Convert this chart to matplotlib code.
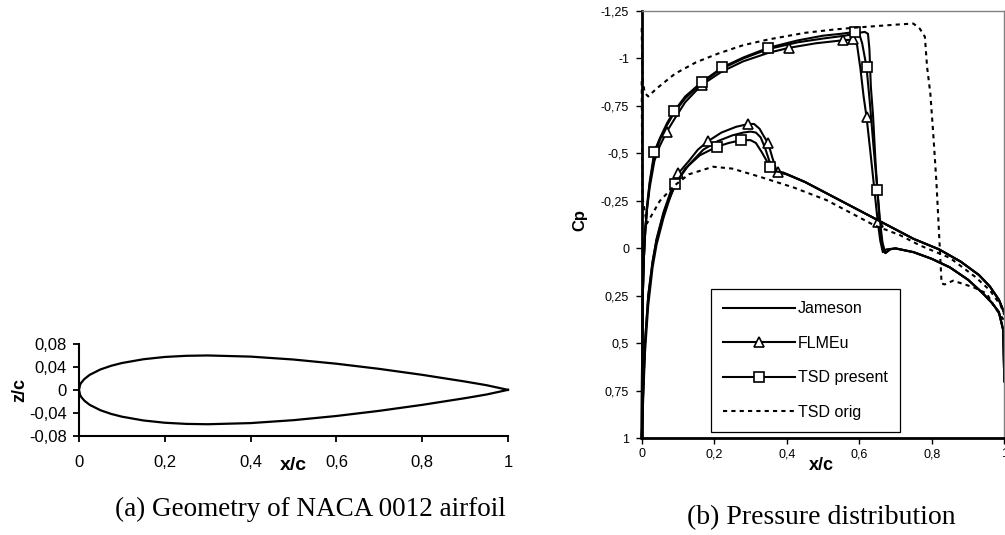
import matplotlib
matplotlib.use("Agg")
import matplotlib.pyplot as plt
from matplotlib.lines import Line2D

plt.rcParams["font.family"] = ["Liberation Sans", "DejaVu Sans"]

# ---- (a) NACA 0012 geometry (upper half-thickness, lower is mirrored) ----
naca_x = [0.0, 0.0025, 0.005, 0.0125, 0.025, 0.05, 0.075, 0.1, 0.15, 0.2,
          0.25, 0.3, 0.4, 0.5, 0.6, 0.7, 0.8, 0.9, 0.95, 1.0]
naca_z = [0.0, 0.0087, 0.0122, 0.0189, 0.0262, 0.0356, 0.0420, 0.0468, 0.0534,
          0.0574, 0.0594, 0.0600, 0.0580, 0.0529, 0.0456, 0.0366, 0.0262,
          0.0145, 0.0081, 0.0]
geo_xticks = [0, 0.2, 0.4, 0.6, 0.8, 1.0]
geo_xlabels = ["0", "0,2", "0,4", "0,6", "0,8", "1"]
geo_zticks = [-0.08, -0.04, 0, 0.04, 0.08]
geo_zlabels = ["-0,08", "-0,04", "0", "0,04", "0,08"]

# ---- (b) pressure distribution ----
# Jameson
jam_up_x = [0.0, 0.001, 0.003, 0.006, 0.010, 0.015, 0.022, 0.035, 0.05, 0.07,
            0.09, 0.12, 0.165, 0.22, 0.28, 0.35, 0.43, 0.50, 0.56, 0.60, 0.615,
            0.624, 0.628, 0.632, 0.638, 0.645, 0.652, 0.659, 0.666, 0.672,
            0.685, 0.70, 0.75, 0.80, 0.85, 0.90, 0.94, 0.965, 0.985, 0.997, 1.0]
jam_up_cp = [1.0, 0.6, 0.25, 0.05, -0.1, -0.22, -0.34, -0.49, -0.57, -0.65,
             -0.715, -0.79, -0.87, -0.945, -1.0, -1.05, -1.085, -1.105, -1.12,
             -1.135, -1.14, -1.13, -1.05, -0.85, -0.7, -0.45, -0.25, -0.08,
             0.0, 0.025, 0.005, 0.0, 0.02, 0.055, 0.1, 0.165, 0.235, 0.285,
             0.335, 0.43, 0.70]
jam_lo_x = [0.0, 0.004, 0.009, 0.018, 0.03, 0.041, 0.06, 0.08, 0.1, 0.13, 0.17,
            0.21, 0.25, 0.28, 0.30, 0.315, 0.328, 0.34, 0.352, 0.364, 0.38,
            0.40, 0.45, 0.55, 0.65, 0.75, 0.82, 0.88, 0.93, 0.96, 0.985, 1.0]
jam_lo_cp = [1.0, 0.75, 0.5, 0.25, 0.07, -0.045, -0.18, -0.28, -0.36, -0.44,
             -0.52, -0.565, -0.595, -0.61, -0.615, -0.61, -0.585, -0.53, -0.46,
             -0.42, -0.40, -0.39, -0.35, -0.25, -0.15, -0.05, 0.005, 0.07, 0.14,
             0.2, 0.27, 0.34]

# FLMEu (triangles)
flm_up_x = [0.0, 0.001, 0.003, 0.006, 0.010, 0.015, 0.022, 0.035, 0.05, 0.069,
            0.09, 0.12, 0.165, 0.22, 0.28, 0.35, 0.406, 0.48, 0.556, 0.583,
            0.594, 0.603, 0.612, 0.62, 0.63, 0.64, 0.651, 0.658, 0.665, 0.675,
            0.70, 0.75, 0.80, 0.85, 0.90, 0.94, 0.965, 0.985, 0.997, 1.0]
flm_up_cp = [1.0, 0.6, 0.25, 0.05, -0.1, -0.21, -0.32, -0.46, -0.54, -0.614,
             -0.68, -0.77, -0.86, -0.93, -0.985, -1.03, -1.056, -1.08, -1.096,
             -1.1, -1.07, -0.95, -0.8, -0.693, -0.52, -0.34, -0.14, -0.04, 0.02,
             0.005, 0.0, 0.02, 0.055, 0.1, 0.165, 0.235, 0.285, 0.335, 0.43, 0.70]
flm_up_marks = [9, 12, 16, 18, 19, 23, 26]
flm_lo_x = [0.0, 0.004, 0.009, 0.018, 0.03, 0.041, 0.06, 0.08, 0.101, 0.13,
            0.155, 0.184, 0.22, 0.26, 0.294, 0.31, 0.325, 0.337, 0.349, 0.36,
            0.37, 0.377, 0.40, 0.45, 0.55, 0.65, 0.75, 0.82, 0.88, 0.93, 0.96,
            0.985, 1.0]
flm_lo_cp = [1.0, 0.75, 0.5, 0.25, 0.07, -0.05, -0.19, -0.30, -0.395, -0.46,
             -0.52, -0.566, -0.61, -0.64, -0.655, -0.655, -0.63, -0.59, -0.553,
             -0.48, -0.42, -0.403, -0.39, -0.35, -0.25, -0.15, -0.05, 0.005,
             0.07, 0.14, 0.2, 0.27, 0.34]
flm_lo_marks = [8, 11, 14, 18, 21]

# TSD present (squares)
tsp_up_x = [0.0, 0.001, 0.003, 0.006, 0.010, 0.015, 0.022, 0.035, 0.05, 0.07,
            0.09, 0.12, 0.165, 0.222, 0.28, 0.349, 0.43, 0.50, 0.55, 0.588,
            0.60, 0.608, 0.62, 0.63, 0.64, 0.65, 0.657, 0.664, 0.672, 0.685,
            0.70, 0.75, 0.80, 0.85, 0.90, 0.94, 0.965, 0.985, 0.997, 1.0]
tsp_up_cp = [1.0, 0.6, 0.25, 0.05, -0.1, -0.23, -0.35, -0.51, -0.58, -0.66,
             -0.724, -0.80, -0.875, -0.953, -1.005, -1.056, -1.095, -1.12,
             -1.13, -1.14, -1.13, -1.08, -0.956, -0.75, -0.52, -0.31, -0.15,
             -0.03, 0.025, 0.005, 0.0, 0.02, 0.055, 0.1, 0.165, 0.235, 0.285,
             0.335, 0.43, 0.70]
tsp_up_marks = [7, 10, 12, 13, 15, 19, 22, 25]
tsp_lo_x = [0.0, 0.004, 0.009, 0.018, 0.03, 0.041, 0.06, 0.075, 0.092, 0.12,
            0.16, 0.207, 0.24, 0.274, 0.30, 0.315, 0.33, 0.354, 0.37, 0.39,
            0.45, 0.55, 0.65, 0.75, 0.82, 0.88, 0.93, 0.96, 0.985, 1.0]
tsp_lo_cp = [1.0, 0.8, 0.55, 0.3, 0.1, -0.02, -0.16, -0.25, -0.337, -0.42,
             -0.49, -0.535, -0.555, -0.57, -0.57, -0.555, -0.51, -0.43, -0.405,
             -0.40, -0.35, -0.25, -0.15, -0.05, 0.005, 0.07, 0.14, 0.2, 0.27,
             0.34]
tsp_lo_marks = [8, 11, 13, 17]

# TSD orig (dashed)
tso_up_x = [0.0, 0.002, 0.008, 0.018, 0.04, 0.092, 0.15, 0.211, 0.28, 0.349,
            0.45, 0.533, 0.593, 0.70, 0.749, 0.767, 0.781, 0.787, 0.796, 0.804,
            0.813, 0.821, 0.827, 0.835, 0.859, 0.915, 0.951, 0.979, 1.0]
tso_up_cp = [-1.16, -0.9, -0.82, -0.80, -0.84, -0.92, -0.98, -1.026, -1.07,
             -1.10, -1.135, -1.153, -1.163, -1.178, -1.184, -1.157, -1.114,
             -0.956, -0.816, -0.605, -0.342, -0.044, 0.184, 0.19, 0.17, 0.205,
             0.237, 0.325, 0.38]
tso_lo_x = [0.0, 0.002, 0.014, 0.05, 0.09, 0.13, 0.197, 0.25, 0.326, 0.42,
            0.51, 0.643, 0.712, 0.767, 0.85, 0.92, 0.96, 0.99, 1.0]
tso_lo_cp = [-0.88, -0.27, -0.13, -0.25, -0.33, -0.39, -0.43, -0.42, -0.377,
             -0.32, -0.254, -0.12, -0.07, -0.016, 0.05, 0.15, 0.22, 0.3, 0.35]

cp_ticks = [-1.25, -1.0, -0.75, -0.5, -0.25, 0, 0.25, 0.5, 0.75, 1.0]
cp_labels = ["-1,25", "-1", "-0,75", "-0,5", "-0,25", "0", "0,25", "0,5",
             "0,75", "1"]
xc_ticks = [0, 0.2, 0.4, 0.6, 0.8, 1.0]
xc_labels = ["0", "0,2", "0,4", "0,6", "0,8", "1"]

W, H = 1005, 535


def fx(px):
    return px / W


def fy(py):
    return 1 - py / H


fig = plt.figure(figsize=(W / 100, H / 100), dpi=100)

# ---------------- left panel ----------------
ax1 = fig.add_axes([fx(79), fy(435.7), (508 - 79) / W, (435.7 - 344) / H])
ax1.plot(naca_x[::-1] + naca_x[1:], naca_z[::-1] + [-z for z in naca_z[1:]],
         color="black", lw=1.6, clip_on=False)
ax1.set_xlim(0, 1)
ax1.set_ylim(-0.08, 0.08)
ax1.set_xticks(geo_xticks)
ax1.set_xticklabels(geo_xlabels)
ax1.set_yticks(geo_zticks)
ax1.set_yticklabels(geo_zlabels)
for s in ["top", "right"]:
    ax1.spines[s].set_visible(False)
for s in ["left", "bottom"]:
    ax1.spines[s].set_linewidth(1.5)
ax1.tick_params(direction="out", length=4, width=1.3, labelsize=12)
ax1.tick_params(axis="x", pad=10)
ax1.tick_params(axis="y", pad=5)

fig.text(fx(293), fy(466), "x/c", fontsize=14, fontweight="bold",
         ha="center", va="center")
fig.text(fx(20), fy(390), "z/c", fontsize=13, fontweight="bold",
         ha="center", va="center", rotation=90)

# ---------------- right panel ----------------
ax2 = fig.add_axes([fx(641.7), fy(438.3), 362.6 / W, 427.3 / H])
lw = 1.5
mk = dict(markerfacecolor="white", markeredgecolor="black", markersize=6.5,
          markeredgewidth=1.2)

ax2.plot(jam_up_x, jam_up_cp, color="black", lw=lw, clip_on=False)
ax2.plot(jam_lo_x, jam_lo_cp, color="black", lw=lw, clip_on=False)
ax2.plot(flm_up_x, flm_up_cp, color="black", lw=lw, marker="^",
         markevery=flm_up_marks, clip_on=False, **mk)
ax2.plot(flm_lo_x, flm_lo_cp, color="black", lw=lw, marker="^",
         markevery=flm_lo_marks, clip_on=False, **mk)
ax2.plot(tsp_up_x, tsp_up_cp, color="black", lw=lw, marker="s",
         markevery=tsp_up_marks, clip_on=False, **mk)
ax2.plot(tsp_lo_x, tsp_lo_cp, color="black", lw=lw, marker="s",
         markevery=tsp_lo_marks, clip_on=False, **mk)
ax2.plot(tso_up_x, tso_up_cp, color="black", lw=1.5, dashes=(2, 2),
         clip_on=False)
ax2.plot(tso_lo_x, tso_lo_cp, color="black", lw=1.5, dashes=(2, 2),
         clip_on=False)

ax2.set_xlim(0, 1)
ax2.set_ylim(1, -1.25)
ax2.set_xticks(xc_ticks)
ax2.set_xticklabels(xc_labels)
ax2.set_yticks(cp_ticks)
ax2.set_yticklabels(cp_labels)
for s in ["left", "bottom"]:
    ax2.spines[s].set_linewidth(2)
for s in ["top", "right"]:
    ax2.spines[s].set_color("#808080")
    ax2.spines[s].set_linewidth(1)
ax2.tick_params(direction="out", length=4, width=1, labelsize=9)
ax2.tick_params(axis="x", pad=3)
ax2.tick_params(axis="y", pad=5)

handles = [
    Line2D([], [], color="black", lw=lw, label="Jameson"),
    Line2D([], [], color="black", lw=lw, marker="^", label="FLMEu", **mk),
    Line2D([], [], color="black", lw=lw, marker="s", label="TSD present", **mk),
    Line2D([], [], color="black", lw=1.5, dashes=(2, 2), label="TSD orig"),
]
leg = ax2.legend(handles=handles, loc="upper left",
                 bbox_to_anchor=(0.191, 0.216), bbox_transform=ax2.transData,
                 borderaxespad=0, fontsize=11.5, handlelength=4.5,
                 handletextpad=0.2, labelspacing=1.22, borderpad=0.75,
                 fancybox=False, framealpha=1, edgecolor="black")
leg.get_frame().set_linewidth(0.9)

fig.text(fx(821.7), fy(466), "x/c", fontsize=13, fontweight="bold",
         ha="center", va="center")
fig.text(fx(580), fy(220), "Cp", fontsize=12, fontweight="bold",
         ha="center", va="center", rotation=90)

# captions
fig.text(fx(310), fy(509), "(a) Geometry of NACA 0012 airfoil",
         fontsize=19.5, family="Liberation Serif", ha="center", va="center")
fig.text(fx(821), fy(518), "(b) Pressure distribution",
         fontsize=20, family="Liberation Serif", ha="center", va="center")

fig.savefig("out.png", dpi=100)
